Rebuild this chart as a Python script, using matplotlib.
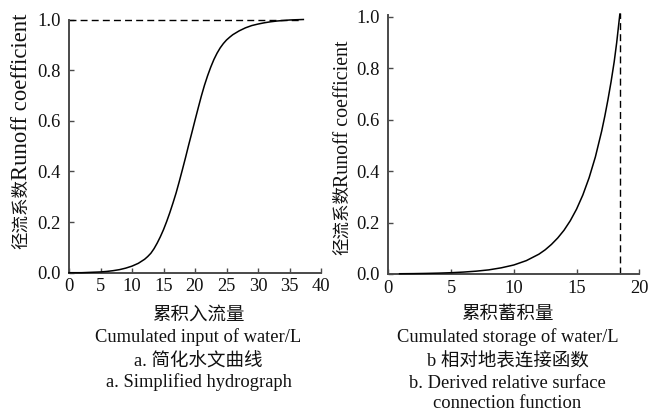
import matplotlib
matplotlib.use("Agg")
import matplotlib.pyplot as plt

# ---- data ----
left_x = [0, 1, 2, 3, 4, 5, 6, 7, 8, 9, 10, 11, 12, 12.5, 13, 13.5, 14, 14.5, 15, 15.5,
          16, 16.5, 17, 17.5, 18, 18.5, 19, 19.5, 20, 20.5, 21, 21.5, 22, 22.5,
          23, 23.5, 24, 24.5, 25, 25.5, 26, 27, 28, 29, 30, 31, 32, 33, 34, 35, 36, 37.2]
left_y = [0.000, 0.000, 0.000, 0.001, 0.002, 0.003, 0.005, 0.008, 0.012, 0.018,
          0.026, 0.037, 0.053, 0.064, 0.077, 0.095, 0.117, 0.142, 0.170, 0.202, 0.237,
          0.275, 0.315, 0.360, 0.407, 0.455, 0.505, 0.553, 0.602, 0.650, 0.697,
          0.740, 0.778, 0.812, 0.842, 0.867, 0.888, 0.905, 0.919, 0.930, 0.940, 0.955,
          0.967, 0.976, 0.982, 0.987, 0.991, 0.994, 0.996, 0.998, 0.999, 1.000]
left_ref_x = [0, 37]
left_ref_y = [1.0, 1.0]

right_x = [0.9, 2, 3, 4, 5, 6, 7, 8, 9, 10, 11, 12, 12.5, 13, 13.5, 14, 14.5, 15,
           15.5, 16, 16.5, 17, 17.25, 17.5, 17.75, 18, 18.2, 18.45]
right_y = [0.001, 0.0015, 0.0023, 0.0034, 0.005, 0.0075, 0.011, 0.016, 0.024, 0.035,
           0.052, 0.077, 0.094, 0.115, 0.140, 0.170, 0.207, 0.252, 0.307, 0.374,
           0.455, 0.555, 0.613, 0.677, 0.747, 0.825, 0.900, 1.010]
right_ref_x = [18.5, 18.5]
right_ref_y = [0.0, 1.015]

left_xticks = [0, 5, 10, 15, 20, 25, 30, 35, 40]
right_xticks = [0, 5, 10, 15, 20]
yticks = [0.0, 0.2, 0.4, 0.6, 0.8, 1.0]

ylabel_cn = "径流系数"
ylabel_en = "Runoff coefficient"
left_lines = ["累积入流量", "Cumulated input of water/L", "a. 简化水文曲线",
              "a. Simplified hydrograph"]
right_lines = ["累积蓄积量", "Cumulated storage of water/L", "b 相对地表连接函数",
               "b. Derived relative surface", "connection function"]

FAM = ["Liberation Serif", "Noto Sans CJK SC", "DejaVu Sans"]
plt.rcParams["font.family"] = FAM

W, H = 649, 412
fig = plt.figure(figsize=(W / 100, H / 100), dpi=100)

def px(x0, y_top, x1, y_bot):
    return [x0 / W, 1 - y_bot / H, (x1 - x0) / W, (y_bot - y_top) / H]

spine_col = "#4a4a4a"

def style(ax, xticks, xlim, ylim):
    for s in ["top", "right"]:
        ax.spines[s].set_visible(False)
    for s in ["left", "bottom"]:
        ax.spines[s].set_color(spine_col)
        ax.spines[s].set_linewidth(1.4)
    ax.set_xlim(*xlim)
    ax.set_ylim(*ylim)
    ax.set_xticks(xticks)
    ax.set_xticklabels([str(t) for t in xticks])
    ax.set_yticks(yticks)
    ax.set_yticklabels([f"{t:.1f}" for t in yticks])
    ax.tick_params(axis="both", direction="in", length=3.6, width=1.0,
                   color=spine_col, labelsize=13.3, labelcolor="#111111")
    ax.tick_params(axis="x", pad=4)
    ax.tick_params(axis="y", pad=6)

# left panel
ax1 = fig.add_axes(px(69, 19.5, 321, 272.7))
ax1.plot(left_x, left_y, color="black", lw=1.1, clip_on=False, zorder=3)
ax1.plot(left_ref_x, left_ref_y, color="black", lw=1.0, ls=(0, (5, 3)),
         clip_on=False, zorder=2)
style(ax1, left_xticks, (0, 40), (0, 1.0))

# right panel
ax2 = fig.add_axes(px(388.3, 14.9, 639.3, 274))
ax2.plot(right_x, right_y, color="black", lw=1.1, clip_on=False, zorder=3)
ax2.plot(right_ref_x, right_ref_y, color="black", lw=1.0, ls=(0, (5, 3)),
         clip_on=False, zorder=2)
style(ax2, right_xticks, (0, 20), (0, 1.007))

# y labels (Chinese part and English part)
def ylab(xc, cn_top, cn_bot, en_top, en_bot, en_size):
    fig.text(xc / W, 1 - (cn_top + cn_bot) / 2 / H, ylabel_cn, rotation=90,
             ha="center", va="center", fontsize=12.6, family=FAM, color="#111111")
    fig.text(xc / W, 1 - (en_top + en_bot) / 2 / H, ylabel_en, rotation=90,
             ha="center", va="center", fontsize=en_size, family=FAM, color="#111111")

ylab(21.7, 180, 248, 13.3, 180, 16.3)
ylab(343.3, 186.7, 253.3, 40, 186.7, 14.4)

# captions below
left_y_pos = [315, 336.7, 361.7, 381.7]
right_y_pos = [315, 336.7, 361.7, 383.3, 403.3]
for t, y in zip(left_lines, left_y_pos):
    fig.text(198.5 / W, 1 - y / H, t, ha="center", va="center", fontsize=13.3,
             family=FAM, color="#111111")
for t, y in zip(right_lines, right_y_pos):
    fig.text(507.5 / W, 1 - y / H, t, ha="center", va="center", fontsize=13.3,
             family=FAM, color="#111111")

fig.savefig("out.png", dpi=100)
